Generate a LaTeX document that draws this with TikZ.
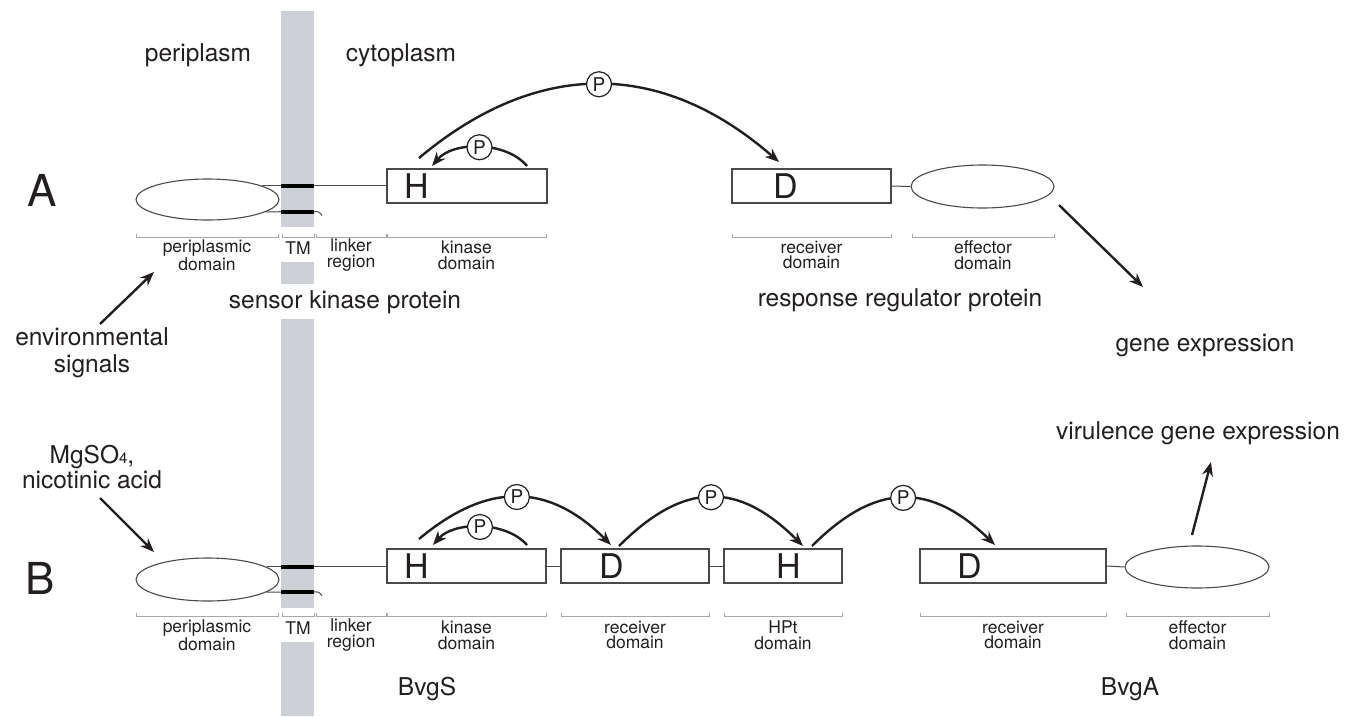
\documentclass[tikz,border=0pt]{standalone}
\usepackage{fontspec}
\setmainfont{TeX Gyre Heros}
\usetikzlibrary{arrows.meta,shapes.geometric}
\definecolor{ink}{HTML}{231F20}
\definecolor{tmgray}{HTML}{CDD0D4}
\definecolor{brkgray}{HTML}{A8A8A8}
\definecolor{boxline}{HTML}{4A4A4A}
\newcommand\fLab{\fontsize{24.5}{27}\selectfont}
\newcommand\fSml{\fontsize{17.5}{15.5}\selectfont}
\newcommand\fLet{\fontsize{34}{34}\selectfont}
\newcommand\fPee{\fontsize{19}{19}\selectfont}
\newcommand\fHuge{\fontsize{44}{44}\selectfont}
\begin{document}
\begin{tikzpicture}[x=1pt,y=-1pt,
  every node/.style={inner sep=0pt, text=ink},
  dombox/.style={draw=boxline, line width=1.1pt, minimum height=34pt, inner sep=0pt},
  oval/.style={ellipse, draw=boxline, line width=1.1pt, inner sep=0pt},
  letter/.style={font=\fLet},
  linkline/.style={draw=boxline, line width=1pt},
  brk/.style={draw=brkgray, line width=1pt},
  dlab/.style={font=\fSml, align=center},
  blab/.style={font=\fLab, align=center},
  panel/.style={font=\fHuge},
  pcirc/.style={circle, draw=ink, line width=1.2pt, fill=white, minimum size=25pt, inner sep=0pt, font=\fPee},
  parc/.style={draw=ink, line width=2.4pt, -{Stealth[length=14pt,width=11pt]}},
  tmbar/.style={draw=black, line width=4pt},
]
\useasboundingbox (0,0) rectangle (1369,716);
\fill[white] (0,0) rectangle (1369,716);
% membrane bar
\fill[tmgray] (281,11) rectangle (314,227);
\fill[tmgray] (281,262) rectangle (314,284);
\fill[tmgray] (281,319) rectangle (314,608);
\fill[tmgray] (281,642) rectangle (314,716);

% top labels
\node[blab] (peri) at (198,55) {periplasm};
\node[blab] (cyto) at (401,55) {cytoplasm};
\node[panel] (pA) at (42,190) {A};
\node[panel] (pB) at (40,578) {B};

% ===== Row A =====
\node[oval, minimum width=143pt, minimum height=41pt] (ellA) at (207.5,199.5) {};
\node[dombox, minimum width=160pt] (hA) at (467,186) {};
\node[letter] (hAl) at (417,186) {H};
\node[dombox, minimum width=159pt] (dA) at (811.5,186) {};
\node[letter] (dAl) at (786,186) {D};
\node[oval, minimum width=143pt, minimum height=43pt] (effA) at (982.5,186.5) {};

\draw[linkline] (ellA.14) -- (ellA.14 -| hA.west);
\draw[linkline] (ellA.-12) -- (283,211.7);
\draw[tmbar] (281,186) -- (314,186);
\draw[tmbar] (281,211.7) -- (314,211.7);
\draw[linkline] (313,211.7) .. controls (319,211.5) .. (322,215.5);
\draw[linkline] (dA.east) -- (effA.west);

% brackets A
\foreach \a/\b in {136/278,282/314,316/386,387/546,732/891,912/1054}
  \draw[brk] (\a,234) -- (\a,237) -- (\b,237) -- (\b,234);
\node[dlab] (lA1) at (207,255) {periplasmic\\domain};
\node[dlab] (lA2) at (298,248) {TM};
\node[dlab] (lA3) at (351,255) {linker\\region};
\node[dlab] (lA4) at (466.5,255) {kinase\\domain};
\node[dlab] (lA5) at (811.5,255) {receiver\\domain};
\node[dlab] (lA6) at (983,255) {effector\\domain};

\node[blab] (skp) at (345,302) {sensor kinase protein};
\node[blab] (rrp) at (900,300) {response regulator protein};
\node[blab] (env) at (92,353) {environmental\\signals};
\node[blab] (gex) at (1205,346) {gene expression};

% phospho arcs A
\coordinate (a1s) at (419,158);
\coordinate (a1e) at (779,162);
\draw[parc] (a1s) .. controls (537,59) and (661,59) .. (a1e) node[pcirc,pos=0.5] (pa1) {P};
\coordinate (a2s) at (527,166);
\coordinate (a2e) at (432,166);
\draw[parc] (a2s) .. controls (506,141) and (453,141) .. (a2e) node[pcirc,pos=0.5] (pa2) {P};

% signal arrows A
\coordinate (envs) at (100,324);
\coordinate (envt) at (154,272);
\draw[parc] (envs) -- (envt);
\coordinate (gexs) at (1059,205);
\coordinate (gext) at (1143,287);
\draw[parc] (gexs) -- (gext);

% ===== Row B =====
\node[oval, minimum width=143pt, minimum height=43pt] (ellB) at (207.5,579.5) {};
\node[dombox, minimum width=159pt] (hB) at (466.5,566) {};
\node[letter] (hBl) at (417,566) {H};
\node[dombox, minimum width=148pt] (dB1) at (635,566) {};
\node[letter] (dB1l) at (612,566) {D};
\node[dombox, minimum width=118pt] (hpt) at (783,566) {};
\node[letter] (hptl) at (789,566) {H};
\node[dombox, minimum width=186pt] (dB2) at (1013,566) {};
\node[letter] (dB2l) at (970,566) {D};
\node[oval, minimum width=144pt, minimum height=42pt] (effB) at (1197,567) {};

\draw[linkline] (ellB.12) -- (ellB.12 -| hB.west);
\draw[linkline] (ellB.-12) -- (283,592);
\draw[tmbar] (281,567) -- (314,567);
\draw[tmbar] (281,592) -- (314,592);
\draw[linkline] (313,592) .. controls (319,591.8) .. (322,595.8);
\draw[linkline] (hB.east) -- (dB1.west);
\draw[linkline] (dB1.east) -- (hpt.west);
\draw[linkline] (dB2.east) -- (effB.west);

% brackets B
\foreach \a/\b in {136/278,282/314,316/386,387/546,561/709,724/842,920/1106,1126/1269}
  \draw[brk] (\a,613) -- (\a,616) -- (\b,616) -- (\b,613);
\node[dlab] (lB1) at (207,635) {periplasmic\\domain};
\node[dlab] (lB2) at (298,628) {TM};
\node[dlab] (lB3) at (351,635) {linker\\region};
\node[dlab] (lB4) at (466.5,635) {kinase\\domain};
\node[dlab] (lB5) at (635,635) {receiver\\domain};
\node[dlab] (lB6) at (783,635) {HPt\\domain};
\node[dlab] (lB7) at (1013,635) {receiver\\domain};
\node[dlab] (lB8) at (1197.5,635) {effector\\domain};

\node[blab] (bvgs) at (427,689) {BvgS};
\node[blab] (bvga) at (1130,689) {BvgA};
\node[blab, font={\fontsize{24.5}{25}\selectfont}] (mg) at (92,467) {MgSO{\fontsize{15}{15}\selectfont 4},\\nicotinic acid};
\node[blab] (vir) at (1198,433) {virulence gene expression};

% phospho arcs B
\coordinate (b1s) at (419,539);
\coordinate (b1e) at (611,545);
\draw[parc] (b1s) .. controls (487,482) and (548,482) .. (b1e) node[pcirc,pos=0.5] (pb1) {P};
\coordinate (b2s) at (527,545);
\coordinate (b2e) at (433,545);
\draw[parc] (b2s) .. controls (506,521) and (454,521) .. (b2e) node[pcirc,pos=0.5] (pb2) {P};
\coordinate (b3s) at (619,546);
\coordinate (b3e) at (803,546);
\draw[parc] (b3s) .. controls (684,481) and (738,481) .. (b3e) node[pcirc,pos=0.5] (pb3) {P};
\coordinate (b4s) at (812,546);
\coordinate (b4e) at (995,545);
\draw[parc] (b4s) .. controls (876,482) and (930,482) .. (b4e) node[pcirc,pos=0.5] (pb4) {P};

% signal arrows B
\coordinate (mgs) at (100,498);
\coordinate (mgt) at (154,552);
\draw[parc] (mgs) -- (mgt);
\coordinate (virs) at (1192,535);
\coordinate (virt) at (1211,462);
\draw[parc] (virs) -- (virt);
\end{tikzpicture}
\end{document}
